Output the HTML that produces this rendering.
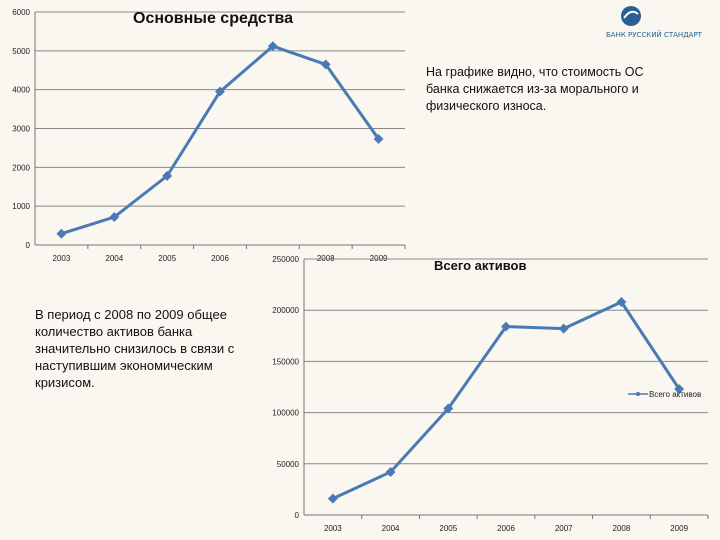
<!DOCTYPE html>
<html><head><meta charset="utf-8"><style>
body{margin:0;width:720px;height:540px;background:#faf7f0;position:relative;overflow:hidden;font-family:"Liberation Sans","DejaVu Sans",sans-serif}
.t{position:absolute;font-family:"Liberation Sans","DejaVu Sans",sans-serif;color:#111}
</style></head><body>
<svg width="720" height="540" style="position:absolute;left:0;top:0">
<g id="c1"></g>
<g id="c2"></g>
<g>
<circle cx="631" cy="16" r="10" fill="#2a5f8f"/>
<path d="M624 18 q7 -10 14 -4" stroke="#fff" stroke-width="2" fill="none"/>
<text x="606" y="37" font-size="7" fill="#2a5f8f" font-family="DejaVu Sans">БАНК РУССКИЙ СТАНДАРТ</text>
</g>
</svg>
<div class="t" style="left:133px;top:10px;font-size:16px;font-weight:bold">Основные средства</div>
<div class="t" style="left:434px;top:258px;font-size:13px;font-weight:bold">Всего активов</div>
<div class="t" style="left:426px;top:64px;width:250px;font-size:12.5px;line-height:17px">На графике видно, что стоимость ОС банка снижается из-за морального и физического износа.</div>
<div class="t" style="left:35px;top:306px;width:225px;font-size:13px;line-height:17px">В период с 2008 по 2009 общее количество активов банка значительно снизилось в связи с наступившим экономическим кризисом.</div>
<script>
const years=["2003","2004","2005","2006","2007","2008","2009"];
const fixedAssets=[290,720,1780,3950,5120,4650,2730];
const fixedTicks=[0,1000,2000,3000,4000,5000,6000];
const totalAssets=[16000,42000,104000,184000,182000,208000,123000];
const totalTicks=[0,50000,100000,150000,200000,250000];
const NS="http://www.w3.org/2000/svg";
function mk(p,tag,a){const e=document.createElementNS(NS,tag);for(const k in a)e.setAttribute(k,a[k]);p.appendChild(e);return e;}
function draw(g,vals,ticks,x0,x1,yTop,yBot,max,fs,legend,hideLabel){
  const cw=(x1-x0)/years.length;
  const X=i=>x0+cw*(i+0.5);
  const Y=v=>yBot-(v/max)*(yBot-yTop);
  ticks.forEach(t=>{
    const l=mk(g,'line',{x1:x0,x2:x1,y1:Y(t),y2:Y(t),stroke:t===0?'#777':'#888','stroke-width':1});
    
    
    const tx=mk(g,'text',{x:x0-5,y:Y(t)+3,'font-size':fs,'text-anchor':'end',fill:'#222'});
    tx.textContent=t;
    
    
  });
  const ax=mk(g,'line',{x1:x0,x2:x0,y1:yTop,y2:yBot,stroke:'#777'});
  
  
  years.forEach((y,i)=>{
    mk(g,'line',{x1:x0+cw*(i+1),x2:x0+cw*(i+1),y1:yBot,y2:yBot+4,stroke:'#777'});
    if(i===hideLabel)return;
    const tx=mk(g,'text',{x:X(i),y:yBot+16,'font-size':fs,'text-anchor':'middle',fill:'#222'});
    tx.textContent=y;
    
    
  });
  const pl=mk(g,'polyline',{points:vals.map((v,i)=>X(i)+','+Y(v)).join(' '),fill:'none',stroke:'#4a7ab5','stroke-width':3,'stroke-linejoin':'round'});
  
  
  vals.forEach((v,i)=>{
    const m=mk(g,'rect',{x:X(i)-3.5,y:Y(v)-3.5,width:7,height:7,fill:'#4a7ab5',transform:`rotate(45 ${X(i)} ${Y(v)})`});
    
    
  });
  if(legend){
    const lg=mk(g,'g',{});
    
    
    mk(lg,'line',{x1:628,x2:648,y1:394,y2:394,stroke:'#4a7ab5','stroke-width':1.5});
    mk(lg,'circle',{cx:638,cy:394,r:2,fill:'#4a7ab5'});
    const t=mk(lg,'text',{x:649,y:397,'font-size':8,fill:'#222'});t.textContent='Всего активов';
  }
}
draw(document.getElementById('c1'),fixedAssets,fixedTicks,35,405,12,245,6000,8,false,4);
draw(document.getElementById('c2'),totalAssets,totalTicks,304,708,259,515,250000,8,true,-1);
</script>
</body></html>
